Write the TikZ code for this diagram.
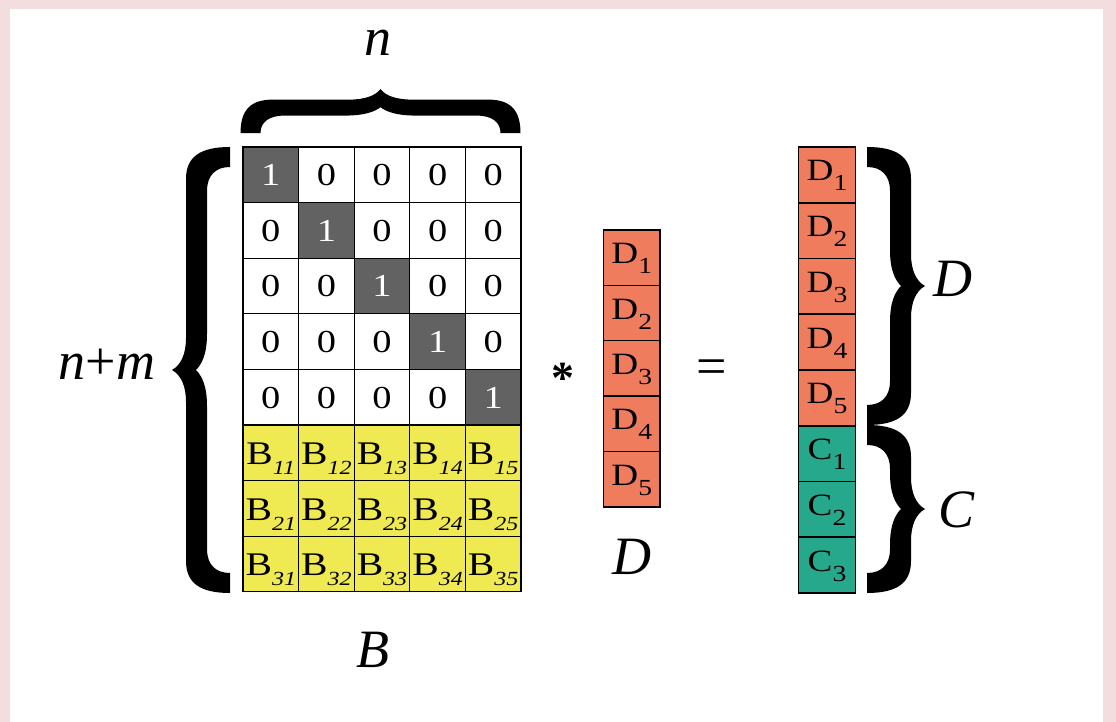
\documentclass[tikz,border=0pt]{standalone}
\usepackage{fontspec}
\setmainfont{Liberation Serif}
\usepackage{graphicx}
\definecolor{pinkbg}{RGB}{243,221,223}
\definecolor{darkcell}{RGB}{98,98,98}
\definecolor{yel}{RGB}{240,234,82}
\definecolor{sal}{RGB}{240,124,94}
\definecolor{tealc}{RGB}{38,168,140}
\newcommand\cellwide[1]{\scalebox{1.2}[1]{#1}}
\newcommand\bracefillpath[1]{%
 \fill (0,0) .. controls (9,5) and (14,16) .. (14,32) -- (14,{#1-32})
  .. controls (14,{#1-10}) and (28,#1) .. (58,#1) -- (58,{#1-20})
  .. controls (44,{#1-20}) and (35,{#1-28}) .. (35,{#1-44}) -- (35,36)
  .. controls (35,16) and (30,6) .. (24,0)
  .. controls (30,-6) and (35,-16) .. (35,-36) -- (35,{-#1+44})
  .. controls (35,{-#1+28}) and (44,{-#1+20}) .. (58,{-#1+20}) -- (58,-#1)
  .. controls (28,-#1) and (14,{-#1+10}) .. (14,{-#1+32}) -- (14,-32)
  .. controls (14,-16) and (9,-5) .. (0,0) -- cycle;}
\begin{document}
\begin{tikzpicture}[x=1pt,y=1pt,
  cell/.style={draw=black,line width=1.3pt,minimum width=55.6pt,minimum height=55.6pt,
    inner sep=0pt,text height=22pt,text depth=0pt,font=\fontsize{32}{32}\selectfont},
  onecell/.style={cell,fill=darkcell,text=white},
  bcell/.style={cell,fill=yel,text height=24pt,font=\fontsize{33}{33}\selectfont},
  vcell/.style={draw=black,line width=1.3pt,minimum width=56.5pt,minimum height=55.5pt,
    inner sep=0pt,text height=12pt,text depth=0pt,font=\fontsize{31}{31}\selectfont},
  lab/.style={font=\fontsize{54}{54}\selectfont\itshape,inner sep=0pt,anchor=base}
]
\useasboundingbox (0,0) rectangle (1116,722);
\fill[pinkbg] (0,0) rectangle (1116,722);
\fill[white] (10,0) rectangle (1103,713);

% identity part
\foreach \r in {1,...,5}{
  \foreach \c in {1,...,5}{
    \ifnum\r=\c
      \node[onecell] (m\r\c) at ({243+55.6*(\c-0.5)},{575-55.6*(\r-0.5)}) {\cellwide{1}};
    \else
      \node[cell] (m\r\c) at ({243+55.6*(\c-0.5)},{575-55.6*(\r-0.5)}) {\cellwide{0}};
    \fi
  }
}
% B part
\foreach \r in {6,7,8}{
  \foreach \c in {1,...,5}{
    \pgfmathtruncatemacro\br{\r-5}
    \node[bcell] (m\r\c) at ({243+55.6*(\c-0.5)},{575-55.6*(\r-0.5)})
      {\cellwide{B}\raisebox{-10pt}{\fontsize{20}{20}\selectfont\itshape\cellwide{\br\c}}};
  }
}
% D vector
\foreach \i in {1,...,5}{
  \node[vcell,fill=sal] (d\i) at (631.75,{492-55.4*(\i-0.5)})
    {\cellwide{D}\raisebox{-10pt}{\fontsize{23}{23}\selectfont\cellwide{\i}}};
}
% result vector
\foreach \i in {1,...,5}{
  \node[vcell,fill=sal] (r\i) at (827,{575-55.75*(\i-0.5)})
    {\cellwide{D}\raisebox{-10pt}{\fontsize{23}{23}\selectfont\cellwide{\i}}};
}
\foreach \i in {1,2,3}{
  \node[vcell,fill=tealc] (c\i) at (827,{575-55.75*(\i+4.5)})
    {\cellwide{C}\raisebox{-10pt}{\fontsize{23}{23}\selectfont\cellwide{\i}}};
}

% braces
\begin{scope}[shift={(172,352)}] \bracefillpath{223} \end{scope}
\begin{scope}[shift={(925,436)},xscale=-1] \bracefillpath{139} \end{scope}
\begin{scope}[shift={(925,213)},xscale=-1] \bracefillpath{84} \end{scope}
\begin{scope}[shift={(380.5,633)},rotate=-90,xscale=0.76] \bracefillpath{140} \end{scope}

% labels
\node[lab] (ntop) at (378,666) {n};
\node[lab] (nm) at (107,342) {n\textup{+}m};
\node[lab] (blab) at (373,54) {B};
\node[lab] (dlab) at (632,147) {D};
\node[lab] (dr) at (953,425) {D};
\node[lab] (cr) at (956,194) {C};
\node[font=\fontsize{46}{46}\selectfont\bfseries,inner sep=0pt,anchor=base] (star) at (563,328) {*};
\node[font=\fontsize{54}{54}\selectfont,inner sep=0pt,anchor=base] (eq) at (712,337) {=};
\end{tikzpicture}
\end{document}
